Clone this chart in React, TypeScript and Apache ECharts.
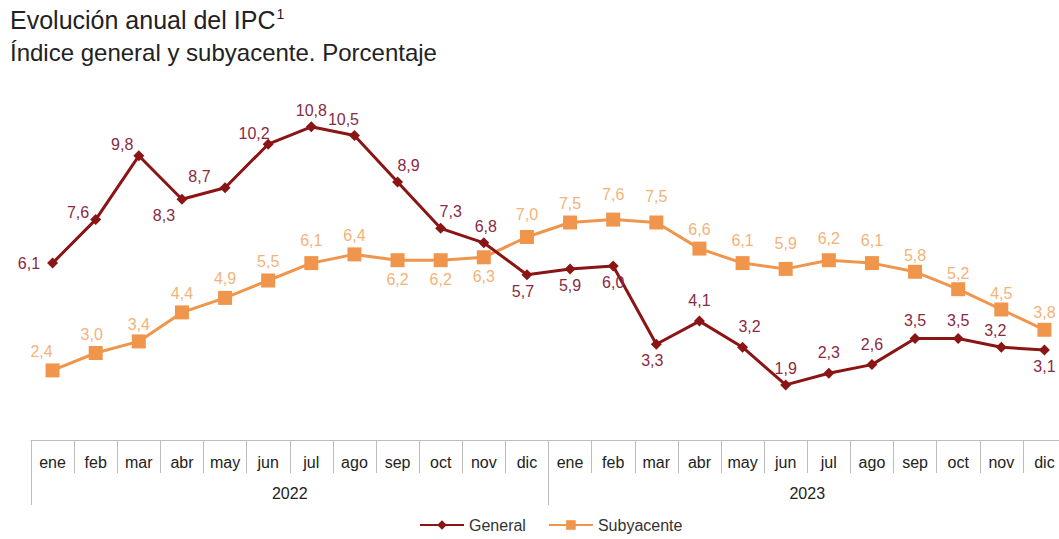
import React, { useEffect, useRef } from "react";
import * as echarts from "echarts";

const monthNames = ["ene", "feb", "mar", "abr", "may", "jun", "jul", "ago", "sep", "oct", "nov", "dic"];
const months = [...monthNames, ...monthNames];
const years = ["2022", "2023"];
const general = [6.1, 7.6, 9.8, 8.3, 8.7, 10.2, 10.8, 10.5, 8.9, 7.3, 6.8, 5.7, 5.9, 6.0, 3.3, 4.1, 3.2, 1.9, 2.3, 2.6, 3.5, 3.5, 3.2, 3.1];
const subyacente = [2.4, 3.0, 3.4, 4.4, 4.9, 5.5, 6.1, 6.4, 6.2, 6.2, 6.3, 7.0, 7.5, 7.6, 7.5, 6.6, 6.1, 5.9, 6.2, 6.1, 5.8, 5.2, 4.5, 3.8];

// label placement per point: [position, dx, dy]
const generalLabelPlace: [string, number, number][] = [
  ["left", -4, 0], ["left", 2, -7], ["left", 3, -11], ["bottom", -18, 0], ["left", -6, -11], ["left", 10, -11],
  ["top", 0, 0], ["top", -11, 0], ["top", 11, 0], ["top", 10, 0], ["top", 2, 0], ["bottom", -4, 0],
  ["bottom", 0, 0], ["bottom", 0, 0], ["bottom", -4, 0], ["top", 0, -4], ["top", 7, -4], ["top", 0, 0],
  ["top", 0, -4], ["top", 0, -4], ["top", 0, -2], ["top", 0, -2], ["top", -6, 0], ["bottom", 0, 0],
];
const subLabelPlace: [string, number, number][] = [
  ["top", -11, 0], ["top", -4, 0], ["top", 0, 2], ["top", 0, 0], ["top", 0, 0], ["top", 0, 0],
  ["top", 0, -4], ["top", 0, 0], ["bottom", 0, 0], ["bottom", 0, 0], ["bottom", 0, 0], ["top", 0, -4],
  ["top", 0, 0], ["top", 0, -6], ["top", 0, -7], ["top", 0, 0], ["top", 0, -4], ["top", 0, -6],
  ["top", 0, -3], ["top", 0, -4], ["top", 0, 3], ["top", 0, 3], ["top", 0, 3], ["top", 0, 2],
];

const FONT = "'Liberation Sans', Arial, sans-serif";
const fmt = (v: number) => v.toFixed(1).replace(".", ",");

export default function App() {
  const ref = useRef<HTMLDivElement>(null);
  useEffect(() => {
    if (!ref.current) return;
    const chart = echarts.init(ref.current, null, { renderer: "svg" });
    const genColor = "#8b1414";
    const genLabel = "#8a2a44";
    const subColor = "#f0964c";
    const subLabel = "#f4b27a";
    chart.setOption({
      animation: false,
      textStyle: { fontFamily: FONT },
      title: {
        text: "Evolución anual del IPC{s|1}",
        subtext: "Índice general y subyacente. Porcentaje",
        left: 5,
        top: 2,
        itemGap: 8,
        textStyle: {
          fontFamily: FONT,
          fontSize: 25,
          fontWeight: "normal",
          color: "#222",
          rich: { s: { fontSize: 14, verticalAlign: "top", color: "#222", fontFamily: FONT, padding: [0, 0, 10, 1] } },
        },
        subtextStyle: { fontFamily: FONT, fontSize: 24, color: "#222" },
      },
      legend: {
        data: ["General", "Subyacente"],
        left: 414,
        bottom: 1,
        itemWidth: 44,
        itemHeight: 12,
        itemGap: 22,
        textStyle: { fontFamily: FONT, fontSize: 16, color: "#333" },
      },
      grid: { left: 31, right: 0, top: 92, bottom: 99 },
      xAxis: [
        {
          type: "category",
          data: months,
          position: "bottom",
          axisLine: { show: true, lineStyle: { color: "#bdbdbd", width: 1 } },
          axisTick: { show: true, interval: 0, length: 33, lineStyle: { color: "#bdbdbd" } },
          axisLabel: { interval: 0, margin: 14, fontSize: 16, color: "#222", fontFamily: FONT },
        },
        {
          type: "category",
          data: years,
          position: "bottom",
          axisLine: { show: false },
          axisTick: { show: true, interval: 0, length: 65, lineStyle: { color: "#bdbdbd" } },
          axisLabel: { interval: 0, margin: 45, fontSize: 16, color: "#222", fontFamily: FONT },
        },
      ],
      yAxis: { type: "value", min: 0, max: 12, show: false, splitLine: { show: false } },
      series: [
        {
          name: "General",
          type: "line",
          xAxisIndex: 0,
          data: general.map((v, i) => ({
            value: v,
            label: {
              position: generalLabelPlace[i][0],
              offset: [generalLabelPlace[i][1], generalLabelPlace[i][2]],
            },
          })),
          symbol: "diamond",
          symbolSize: 11,
          lineStyle: { color: genColor, width: 3 },
          itemStyle: { color: genColor },
          label: { show: true, distance: 3, fontSize: 16, color: genLabel, fontFamily: FONT, formatter: (p: any) => fmt(p.value) },
          z: 3,
        },
        {
          name: "Subyacente",
          type: "line",
          xAxisIndex: 0,
          data: subyacente.map((v, i) => ({
            value: v,
            label: {
              position: subLabelPlace[i][0],
              offset: [subLabelPlace[i][1], subLabelPlace[i][2]],
            },
          })),
          symbol: "rect",
          symbolSize: 14,
          lineStyle: { color: subColor, width: 3 },
          itemStyle: { color: subColor },
          label: { show: true, distance: 4, fontSize: 16, color: subLabel, fontFamily: FONT, formatter: (p: any) => fmt(p.value) },
          z: 2,
        },
      ],
    });
    return () => chart.dispose();
  }, []);
  return (
    <div style={{ position: "absolute", left: 0, top: 0, width: 1059, height: 539, overflow: "hidden" }}>
      <div ref={ref} style={{ width: 1066, height: 539 }} />
    </div>
  );
}
